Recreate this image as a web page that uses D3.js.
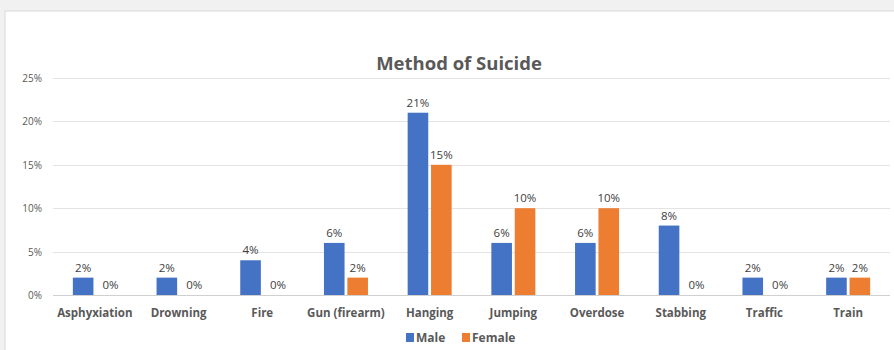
<!DOCTYPE html>
<html>
<head>
<meta charset="utf-8">
<script src="https://cdn.jsdelivr.net/npm/d3@7"></script>
<style>
  body { margin: 0; background: #f1f1f1; }
  svg { display: block; font-family: "Open Sans", "Noto Sans", sans-serif; }
</style>
</head>
<body>
<svg id="chart" width="894" height="350"></svg>
<script>
const categories = ["Asphyxiation", "Drowning", "Fire", "Gun (firearm)", "Hanging",
    "Jumping", "Overdose", "Stabbing", "Traffic", "Train"];
const male = [2, 2, 4, 6, 21, 6, 6, 8, 2, 2];
const female = [0, 0, 0, 2, 15, 10, 10, 0, 0, 2];
const seriesNames = ["Male", "Female"];
const yTicks = [0, 5, 10, 15, 20, 25];

const colors = { Male: "#4472C4", Female: "#ED7D31" };

const svg = d3.select("#chart");
const margin = { top: 78, right: 4, bottom: 55, left: 53 };
const width = 894, height = 350;

// white chart area
svg.append("rect")
    .attr("x", 5).attr("y", 11)
    .attr("width", width).attr("height", height)
    .attr("fill", "#fff")
    .attr("stroke", "#d9d9d9");

const x = d3.scaleBand()
    .domain(categories)
    .range([margin.left, width - margin.right]);

const x1 = d3.scaleBand()
    .domain(seriesNames)
    .range([x.bandwidth() / 2 - 22, x.bandwidth() / 2 + 22])
    .paddingInner(0.12);

const y = d3.scaleLinear()
    .domain([0, 25])
    .range([height - margin.bottom, margin.top]);

// gridlines
svg.append("g")
    .selectAll("line")
    .data(yTicks)
    .join("line")
    .attr("x1", margin.left)
    .attr("x2", width - margin.right)
    .attr("y1", d => Math.round(y(d)) + 0.5)
    .attr("y2", d => Math.round(y(d)) + 0.5)
    .attr("stroke", d => d === 0 ? "#d0d0d0" : "#e3e3e3");

// y axis labels
svg.append("g")
    .selectAll("text")
    .data(yTicks)
    .join("text")
    .attr("x", 42)
    .attr("y", d => y(d) + 4)
    .attr("text-anchor", "end")
    .attr("font-size", 10)
    .attr("fill", "#595959")
    .text(d => d + "%");

// title
svg.append("text")
    .attr("x", 459)
    .attr("y", 70)
    .attr("text-anchor", "middle")
    .attr("font-size", 18.5)
    .attr("font-weight", "bold")
    .attr("fill", "#595959")
    .text("Method of Suicide");

const rows = categories.map((c, i) => ({
    cat: c,
    values: [
        { key: "Male", value: male[i] },
        { key: "Female", value: female[i] }
    ]
}));

const groups = svg.append("g")
    .selectAll("g")
    .data(rows)
    .join("g")
    .attr("transform", d => `translate(${x(d.cat)},0)`);

groups.selectAll("rect")
    .data(d => d.values)
    .join("rect")
    .attr("x", d => x1(d.key))
    .attr("width", x1.bandwidth())
    .attr("y", d => y(d.value))
    .attr("height", d => y(0) - y(d.value))
    .attr("fill", d => colors[d.key]);

groups.selectAll("text")
    .data(d => d.values)
    .join("text")
    .attr("x", d => x1(d.key) + x1.bandwidth() / 2 + (d.value === 0 ? 4 : 0))
    .attr("y", d => y(d.value) - 6)
    .attr("text-anchor", "middle")
    .attr("font-size", 11.5)
    .attr("fill", "#404040")
    .text(d => d.value + "%");

// category labels
svg.append("g")
    .selectAll("text")
    .data(categories)
    .join("text")
    .attr("x", d => x(d) + x.bandwidth() / 2)
    .attr("y", 317)
    .attr("text-anchor", "middle")
    .attr("font-size", 11.5)
    .attr("font-weight", "bold")
    .attr("fill", "#595959")
    .text(d => d);

// legend
const legend = svg.append("g")
    .selectAll("g")
    .data(seriesNames)
    .join("g")
    .attr("transform", (d, i) => `translate(${[406, 462][i]},333)`);

legend.append("rect")
    .attr("width", 8).attr("height", 9)
    .attr("fill", d => colors[d]);

legend.append("text")
    .attr("x", 10)
    .attr("y", 9)
    .attr("font-size", 12)
    .attr("font-weight", "bold")
    .attr("fill", "#595959")
    .text(d => d);
</script>
</body>
</html>
